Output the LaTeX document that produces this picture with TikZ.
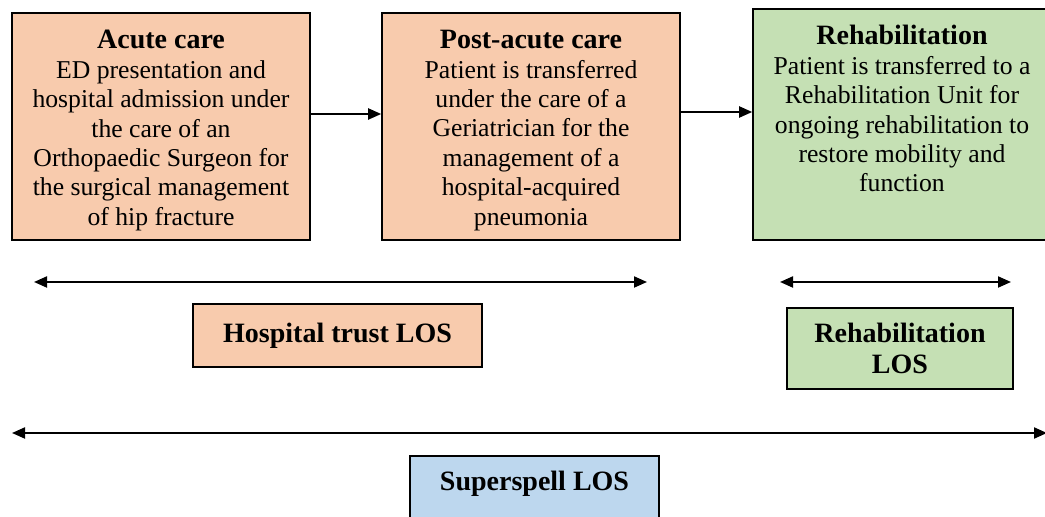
\documentclass[tikz,border=0pt]{standalone}
\usepackage{fontspec}
\setmainfont{Liberation Serif}
\usetikzlibrary{arrows.meta}

\definecolor{hospfill}{HTML}{F8CBAD}
\definecolor{rehabfill}{HTML}{C5E0B4}
\definecolor{spellfill}{HTML}{BDD7EE}

% bold heading inside a stage box
\newcommand\boxhead[1]{{\fontsize{14pt}{14.7pt}\selectfont\bfseries #1}}

\begin{document}
\begin{tikzpicture}[x=0.5pt,y=-0.5pt,
  box/.style={draw=black, line width=0.8pt, inner sep=0pt, align=center},
  body/.style={font=\fontsize{12.85pt}{14.7pt}\selectfont, align=center, inner sep=0pt},
  tag/.style={font=\fontsize{14pt}{15.5pt}\selectfont\bfseries},
  flow/.style={line width=1pt, -{Triangle[length=6.5pt,width=5.5pt]}},
  span/.style={line width=1pt, {Triangle[length=6.5pt,width=5.5pt]}-{Triangle[length=6.5pt,width=5.5pt]}}]

\useasboundingbox (0,0) rectangle (1045,517);
\clip (0,0) rectangle (1045,517);

% stage boxes
\node[box, fill=hospfill, minimum width=149pt, minimum height=113.5pt] (acute) at (161,126.5) {};
\node[body] (acutetext) at (161,130.5)
  {\boxhead{Acute care}\\ED presentation and\\hospital admission under\\the care of an\\Orthopaedic Surgeon for\\the surgical management\\of hip fracture};
\node[box, fill=hospfill, minimum width=149pt, minimum height=113.5pt] (post) at (531,126.5) {};
\node[body] (posttext) at (531,130.5)
  {\boxhead{Post-acute care}\\Patient is transferred\\under the care of a\\Geriatrician for the\\management of a\\hospital-acquired\\pneumonia};
\node[box, fill=rehabfill, minimum width=149pt, minimum height=115.5pt] (rehab) at (902,124.5) {};
\node[body, anchor=north] (rehabtext) at (902,25)
  {\boxhead{Rehabilitation}\\Patient is transferred to a\\Rehabilitation Unit for\\ongoing rehabilitation to\\restore mobility and\\function};

% transfers between stages
\draw[flow] (acute.east |- 0,114) -- (post.west |- 0,114);
\draw[flow] (post.east |- 0,112) -- (rehab.west |- 0,112);

% length-of-stay spans
\coordinate (hospL) at (34,282);
\coordinate (hospR) at (647,282);
\coordinate (rehabL) at (780,282);
\coordinate (rehabR) at (1011,282);
\coordinate (spellL) at (12,433);
\coordinate (spellR) at (1047,433);
\draw[span] (hospL) -- (hospR);
\draw[span] (rehabL) -- (rehabR);
\draw[span] (spellL) -- (spellR);

% length-of-stay labels
\node[box, tag, fill=hospfill, minimum width=144.5pt, minimum height=31.5pt] (hosplos) at (337.5,335.5) {Hospital trust LOS};
\node[box, tag, fill=rehabfill, minimum width=113pt, minimum height=40.5pt] (rehablos) at (900,348.5) {Rehabilitation\\LOS};
\node[box, fill=spellfill, minimum width=124.5pt, minimum height=37pt] (spelllos) at (534.5,493) {};
\node[tag, inner sep=0pt] (spelltext) at (534.5,484) {Superspell LOS};
\end{tikzpicture}
\end{document}
